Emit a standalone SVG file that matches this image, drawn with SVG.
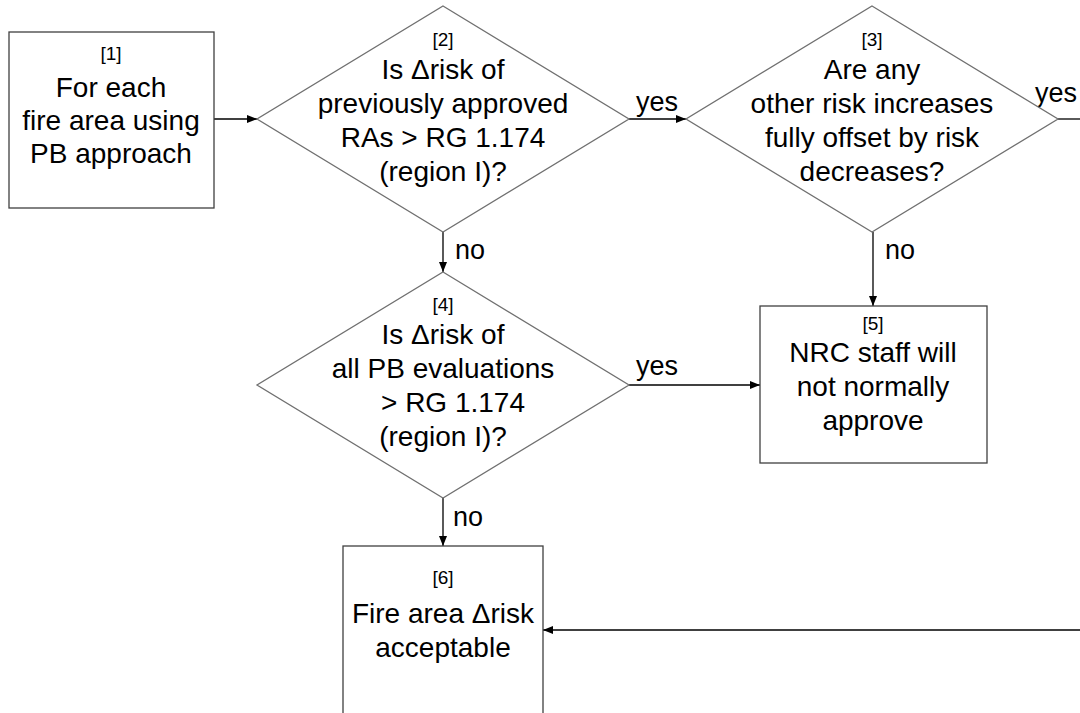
<svg xmlns="http://www.w3.org/2000/svg" width="1080" height="713" viewBox="0 0 1080 713">
<style>
text{font-family:"Liberation Sans",Arial,sans-serif;fill:#000;text-anchor:middle}
.t{font-size:28px}
.n{font-size:19px}
.l{font-size:27px;text-anchor:start}
.box{fill:#fff;stroke:#404040;stroke-width:1.3}
.dia{fill:#fff;stroke:#707070;stroke-width:1.3}
.c{fill:none;stroke:#000;stroke-width:1.3}
</style>
<defs>
<marker id="ah" viewBox="0 0 10 10" refX="10" refY="5" markerWidth="10" markerHeight="10" markerUnits="userSpaceOnUse" orient="auto">
<path d="M0,1 L10,5 L0,9 Z" fill="#000"/>
</marker>
</defs>
<rect width="1080" height="713" fill="#fff"/>
<g id="connectors">
<line class="c" x1="214" y1="119" x2="257" y2="119" marker-end="url(#ah)"/>
<line class="c" x1="629" y1="119" x2="686" y2="119" marker-end="url(#ah)"/>
<line class="c" x1="1058" y1="119" x2="1080" y2="119"/>
<line class="c" x1="443" y1="232" x2="443" y2="272" marker-end="url(#ah)"/>
<line class="c" x1="873" y1="232" x2="873" y2="306" marker-end="url(#ah)"/>
<line class="c" x1="629" y1="385" x2="760" y2="385" marker-end="url(#ah)"/>
<line class="c" x1="443" y1="498" x2="443" y2="546" marker-end="url(#ah)"/>
<line class="c" x1="1080" y1="630" x2="543" y2="630" marker-end="url(#ah)"/>
<text class="l" x="636" y="111">yes</text>
<text class="l" x="1035" y="102">yes</text>
<text class="l" x="455" y="259">no</text>
<text class="l" x="885" y="259">no</text>
<text class="l" x="636" y="375">yes</text>
<text class="l" x="453" y="526">no</text>
</g>
<g id="n1">
<rect class="box" x="9" y="32" width="205" height="176"/>
<text class="n" x="111" y="60">[1]</text>
<text class="t" x="111" y="97">For each</text>
<text class="t" x="111" y="130">fire area using</text>
<text class="t" x="111" y="163">PB approach</text>
</g>
<g id="n2">
<polygon class="dia" points="443,6 629,119 443,232 257,119"/>
<text class="n" x="443" y="46">[2]</text>
<text class="t" x="443" y="79">Is Δrisk of</text>
<text class="t" x="443" y="113">previously approved</text>
<text class="t" x="443" y="147">RAs &gt; RG 1.174</text>
<text class="t" x="443" y="181">(region I)?</text>
</g>
<g id="n3">
<polygon class="dia" points="872,6 1058,119 872,232 686,119"/>
<text class="n" x="872" y="46">[3]</text>
<text class="t" x="872" y="79">Are any</text>
<text class="t" x="872" y="113">other risk increases</text>
<text class="t" x="872" y="147">fully offset by risk</text>
<text class="t" x="872" y="181">decreases?</text>
</g>
<g id="n4">
<polygon class="dia" points="443,272 629,385 443,498 257,385"/>
<text class="n" x="443" y="311">[4]</text>
<text class="t" x="443" y="344">Is Δrisk of</text>
<text class="t" x="443" y="378">all PB evaluations</text>
<text class="t" x="453" y="412">&gt; RG 1.174</text>
<text class="t" x="443" y="446">(region I)?</text>
</g>
<g id="n5">
<rect class="box" x="760" y="306" width="227" height="157"/>
<text class="n" x="873" y="330">[5]</text>
<text class="t" x="873" y="362">NRC staff will</text>
<text class="t" x="873" y="396">not normally</text>
<text class="t" x="873" y="430">approve</text>
</g>
<g id="n6">
<rect class="box" x="343" y="546" width="200" height="180"/>
<text class="n" x="443" y="584">[6]</text>
<text class="t" x="443" y="623">Fire area Δrisk</text>
<text class="t" x="443" y="657">acceptable</text>
</g>
</svg>
